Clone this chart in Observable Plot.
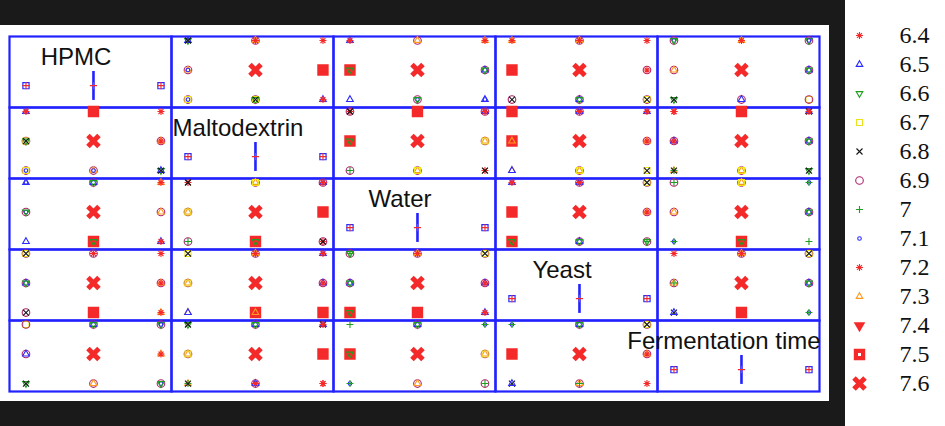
<!DOCTYPE html>
<html>
<head>
<meta charset="utf-8">
<script src="https://cdn.jsdelivr.net/npm/d3@7"></script>
<script src="https://cdn.jsdelivr.net/npm/@observablehq/plot@0.6"></script>
<style>
html, body { margin: 0; padding: 0; background: #1a1a1a; width: 945px; height: 426px; overflow: hidden; }
#plot { position: absolute; left: 0; top: 25px; width: 829px; height: 376px; background: #fff; }
#legend { position: absolute; left: 845px; top: 0; width: 100px; height: 426px; background: #fff; }
svg { display: block; }
#legend text { font-family: 'Liberation Serif' !important; font-size: 24px !important; }
#plot text { font-family: 'Liberation Sans' !important; font-size: 24px !important; }
</style>
</head>
<body>
<div id="plot"></div>
<div id="legend"></div>
<script>
// ---------------- data ----------------
const factors = ["HPMC", "Maltodextrin", "Water", "Yeast", "Fermentation time"];
const phLevels = [6.4, 6.5, 6.6, 6.7, 6.8, 6.9, 7.0, 7.1, 7.2, 7.3, 7.4, 7.5, 7.6];
const phLabels = ["6.4", "6.5", "6.6", "6.7", "6.8", "6.9", "7", "7.1", "7.2", "7.3", "7.4", "7.5", "7.6"];
const codedLevels = [-1, 0, 1];

// Upper-triangle panels: x = column factor (coded), y = row factor (coded),
// list = pH values overplotted at that design point (in drawing order)
const upperPanels = [
  {row: "HPMC", col: "Maltodextrin", points: [
    [-1, 1, [6.6, 6.5, 6.8]], [0, 1, [6.9, 7.3, 6.4]], [1, 1, [6.4]],
    [-1, 0, [6.9, 7.3, 7.1]], [0, 0, [7.6]], [1, 0, [7.5]],
    [-1, -1, [6.9, 6.7, 7.1]], [0, -1, [6.9, 6.7, 6.6, 6.8]], [1, -1, [6.5, 6.4]]]},
  {row: "HPMC", col: "Water", points: [
    [-1, 1, [6.5, 7.2]], [0, 1, [6.9, 7.3]], [1, 1, [7.3, 6.4]],
    [-1, 0, [7.5, 6.6]], [0, 0, [7.6]], [1, 0, [6.9, 6.5, 6.6]],
    [-1, -1, [6.5]], [0, -1, [6.9, 7.1, 6.6]], [1, -1, [6.5, 7.1]]]},
  {row: "HPMC", col: "Yeast", points: [
    [-1, 1, [7.3, 7.2]], [0, 1, [6.9, 7.3, 6.4]], [1, 1, [6.4]],
    [-1, 0, [7.5]], [0, 0, [7.6]], [1, 0, [6.9, 7.2]],
    [-1, -1, [6.9, 6.8]], [0, -1, [6.9, 6.5, 6.6]], [1, -1, [6.9, 6.7, 6.8]]]},
  {row: "HPMC", col: "Fermentation time", points: [
    [-1, 1, [6.9, 7.1, 6.6]], [0, 1, [7.3, 6.4]], [1, 1, [6.9, 6.6, 7.1]],
    [-1, 0, [6.9, 7.3]], [0, 0, [7.6]], [1, 0, [6.9, 6.5, 6.6]],
    [-1, -1, [6.6, 6.8]], [0, -1, [6.9, 6.5]], [1, -1, [6.7, 6.9]]]},
  {row: "Maltodextrin", col: "Water", points: [
    [-1, 1, [6.9, 7.2, 6.8]], [0, 1, [7.5]], [1, 1, [6.9, 6.5, 6.4]],
    [-1, 0, [7.5, 6.6]], [0, 0, [7.6]], [1, 0, [6.9, 7.3, 6.7]],
    [-1, -1, [6.9, 7.0]], [0, -1, [6.9, 7.3, 6.7]], [1, -1, [7.2, 6.8]]]},
  {row: "Maltodextrin", col: "Yeast", points: [
    [-1, 1, [7.5]], [0, 1, [6.9, 6.5, 6.4]], [1, 1, [6.5, 6.4]],
    [-1, 0, [7.5, 7.3]], [0, 0, [7.6]], [1, 0, [6.9, 7.3, 6.4]],
    [-1, -1, [7.3, 6.5]], [0, -1, [6.9, 7.3, 6.7]], [1, -1, [6.7, 6.8]]]},
  {row: "Maltodextrin", col: "Fermentation time", points: [
    [-1, 1, [6.4, 7.2]], [0, 1, [7.5]], [1, 1, [6.5, 6.8, 6.4]],
    [-1, 0, [6.9, 6.5, 6.4]], [0, 0, [7.6]], [1, 0, [6.9, 6.5, 6.6]],
    [-1, -1, [7.3, 7.0, 6.8]], [0, -1, [6.9, 7.3, 6.7]], [1, -1, [6.6, 6.8]]]},
  {row: "Water", col: "Yeast", points: [
    [-1, 1, [6.5, 6.4]], [0, 1, [6.9, 6.5, 6.4]], [1, 1, [6.9, 6.7, 6.8]],
    [-1, 0, [7.5]], [0, 0, [7.6]], [1, 0, [6.9, 7.3, 6.4]],
    [-1, -1, [7.5, 6.6]], [0, -1, [6.9, 6.5, 6.6]], [1, -1, [6.9, 6.6, 7.0]]]},
  {row: "Water", col: "Fermentation time", points: [
    [-1, 1, [6.9, 7.0]], [0, 1, [6.9, 7.3, 6.7]], [1, 1, [7.1, 7.0]],
    [-1, 0, [6.9, 7.3]], [0, 0, [7.6]], [1, 0, [6.9, 6.5, 6.6]],
    [-1, -1, [7.1, 7.0]], [0, -1, [7.5, 6.6]], [1, -1, [7.0]]]},
  {row: "Yeast", col: "Fermentation time", points: [
    [-1, 1, [6.4]], [0, 1, [6.9, 7.3, 6.4]], [1, 1, [6.9, 6.7, 6.8]],
    [-1, 0, [6.9, 7.3, 7.0]], [0, 0, [7.6]], [1, 0, [6.9, 6.5, 6.6]],
    [-1, -1, [6.8, 6.5]], [0, -1, [7.5]], [1, -1, [7.1, 7.0]]]}
];

// ---------------- styles ----------------
const RED = "#f42a2a", BLUE = "#2a2aff", GREEN = "#1f9f1f", YELLOW = "#ece21c",
      BLACK = "#141414", MAGENTA = "#b0236c", ORANGE = "#ff9a1e", WHITE = "#ffffff",
      BORDER = "#2222ff";

const shape = (f) => ({draw(c, size) { f(c, Math.sqrt(size / Math.PI)); }});
const symStar = shape((c, h) => { const d = h * Math.SQRT1_2;
  c.moveTo(-h, 0); c.lineTo(h, 0); c.moveTo(0, -h); c.lineTo(0, h);
  c.moveTo(-d, -d); c.lineTo(d, d); c.moveTo(-d, d); c.lineTo(d, -d); });
const symTriUp = shape((c, h) => { c.moveTo(0, -h * 1.155); c.lineTo(h, h * 0.577); c.lineTo(-h, h * 0.577); c.closePath(); });
const symTriDown = shape((c, h) => { c.moveTo(0, h * 1.155); c.lineTo(h, -h * 0.577); c.lineTo(-h, -h * 0.577); c.closePath(); });
const symSquare = shape((c, h) => { c.rect(-h, -h, 2 * h, 2 * h); });
const symTimes = shape((c, h) => { c.moveTo(-h, -h); c.lineTo(h, h); c.moveTo(-h, h); c.lineTo(h, -h); });
const symPlus = shape((c, h) => { c.moveTo(-h, 0); c.lineTo(h, 0); c.moveTo(0, -h); c.lineTo(0, h); });
const symCircle = shape((c, h) => { c.moveTo(h, 0); c.arc(0, 0, h, 0, 2 * Math.PI); });

const glyphTable = [
  [{symbol: symStar, r: 3.5, stroke: RED}],            // 6.4
  [{symbol: symTriUp, r: 3.3, stroke: BLUE}],          // 6.5
  [{symbol: symTriDown, r: 3.3, stroke: GREEN}],       // 6.6
  [{symbol: symSquare, r: 3.0, stroke: YELLOW}],       // 6.7
  [{symbol: symTimes, r: 3.0, stroke: BLACK}],         // 6.8
  [{symbol: symCircle, r: 3.8, stroke: MAGENTA}],      // 6.9
  [{symbol: symPlus, r: 3.5, stroke: GREEN}],          // 7
  [{symbol: symCircle, r: 1.8, stroke: BLUE}],         // 7.1
  [{symbol: symStar, r: 3.5, stroke: RED}],            // 7.2
  [{symbol: symTriUp, r: 3.3, stroke: ORANGE}],        // 7.3
  [{symbol: symTriDown, r: 5.8, fill: RED}],           // 7.4
  [{symbol: symSquare, r: 5.0, fill: RED, stroke: RED, sw: 1.4}], // 7.5
  [{symbol: symTimes, r: 5.5, stroke: RED, sw: 5.0}]   // 7.6
];

// ---------------- build faceted records ----------------
const LABEL_Y = 0.17, DIAG_Y = -0.53, DIAG_LINE = [-0.05, -1.03];
const cells = [];
function addPoint(row, col, x, y, phs) {
  for (const ph of phs) {
    const k = phLevels.indexOf(ph);
    for (const g of glyphTable[k]) {
      cells.push({type: "pt", row, col, x, y, ph, sym: g.symbol, r: g.r,
        fill: g.fill ?? "none", stroke: g.stroke ?? "none", sw: g.sw ?? 1.1});
    }
  }
}
for (const p of upperPanels) {
  for (const [x, y, phs] of p.points) {
    addPoint(p.row, p.col, x, y, phs);
    addPoint(p.col, p.row, y, x, phs);
  }
}
for (const f of factors) {
  cells.push({type: "label", row: f, col: f, x: 0, y: LABEL_Y});
  cells.push({type: "diagline", row: f, col: f, x: 0, y1: DIAG_LINE[0], y2: DIAG_LINE[1]});
  for (const x of codedLevels) cells.push({type: x === 0 ? "diagmid" : "diagside", row: f, col: f, x, y: DIAG_Y});
}

const chart = Plot.plot({
  width: 829, height: 376,
  marginLeft: 9, marginRight: 10, marginTop: 10, marginBottom: 10,
  facet: {data: cells, x: "col", y: "row"},
  fx: {domain: factors, padding: 0, axis: null},
  fy: {domain: factors, padding: 0, axis: null},
  x: {domain: [-1.244, 1.156], axis: null},
  y: {domain: [-1.27, 1.136], axis: null},
  r: {type: "identity"},
  color: {type: "identity"},
  symbol: {type: "identity"},
  style: {background: "white", overflow: "visible"},
  marks: [
    Plot.frame({stroke: BORDER, strokeWidth: 2.2}),
    Plot.dot(cells, {filter: (d) => d.type === "pt", x: "x", y: "y", symbol: "sym", r: "r",
      fill: "fill", stroke: "stroke", strokeWidth: "sw", sort: null}),
    Plot.ruleX(cells, {filter: (d) => d.type === "diagline", x: "x", y1: "y1", y2: "y2", stroke: BORDER, strokeWidth: 2.6}),
    Plot.dot(cells, {filter: (d) => d.type === "diagside", x: "x", y: "y", symbol: symSquare, r: 3.1, stroke: BLUE, strokeWidth: 1.2}),
    Plot.dot(cells, {filter: (d) => d.type === "diagside" || d.type === "diagmid", x: "x", y: "y", symbol: symPlus, r: 3.6, stroke: RED, strokeWidth: 1.1}),
    Plot.text(cells, {filter: (d) => d.type === "label", x: "x", y: "y", text: "row", dx: -17.5,
      lineAnchor: "bottom", fontSize: 24, fontFamily: "Liberation Sans", fill: "#111"})
  ]
});
document.getElementById("plot").appendChild(chart);

// ---------------- legend ----------------
const legendGlyphs = [];
phLabels.forEach((label, k) => {
  for (const g of glyphTable[k]) legendGlyphs.push({label, sym: g.symbol, r: g.r, fill: g.fill ?? "none", stroke: g.stroke ?? "none", sw: g.sw ?? 1.1});
  if (k === 11) legendGlyphs.push({label, sym: symSquare, r: 1.5, fill: WHITE, stroke: "none", sw: 0});
});
const legend = Plot.plot({
  width: 100, height: 426, margin: 0,
  y: {type: "point", domain: phLabels, range: [18, 400], axis: null},
  r: {type: "identity"},
  color: {type: "identity"},
  symbol: {type: "identity"},
  style: {background: "white", overflow: "visible"},
  marks: [
    Plot.dot(legendGlyphs, {y: "label", frameAnchor: "left", dx: 14, symbol: "sym", r: "r",
      fill: "fill", stroke: "stroke", strokeWidth: "sw", sort: null}),
    Plot.text(phLabels, {y: (d) => d, text: (d) => d, frameAnchor: "left", dx: 54, textAnchor: "start",
      lineAnchor: "middle", fontSize: 24, fontFamily: "Liberation Serif", fontVariant: "normal", fill: "#111"})
  ]
});
document.getElementById("legend").appendChild(legend);
</script>
</body>
</html>
